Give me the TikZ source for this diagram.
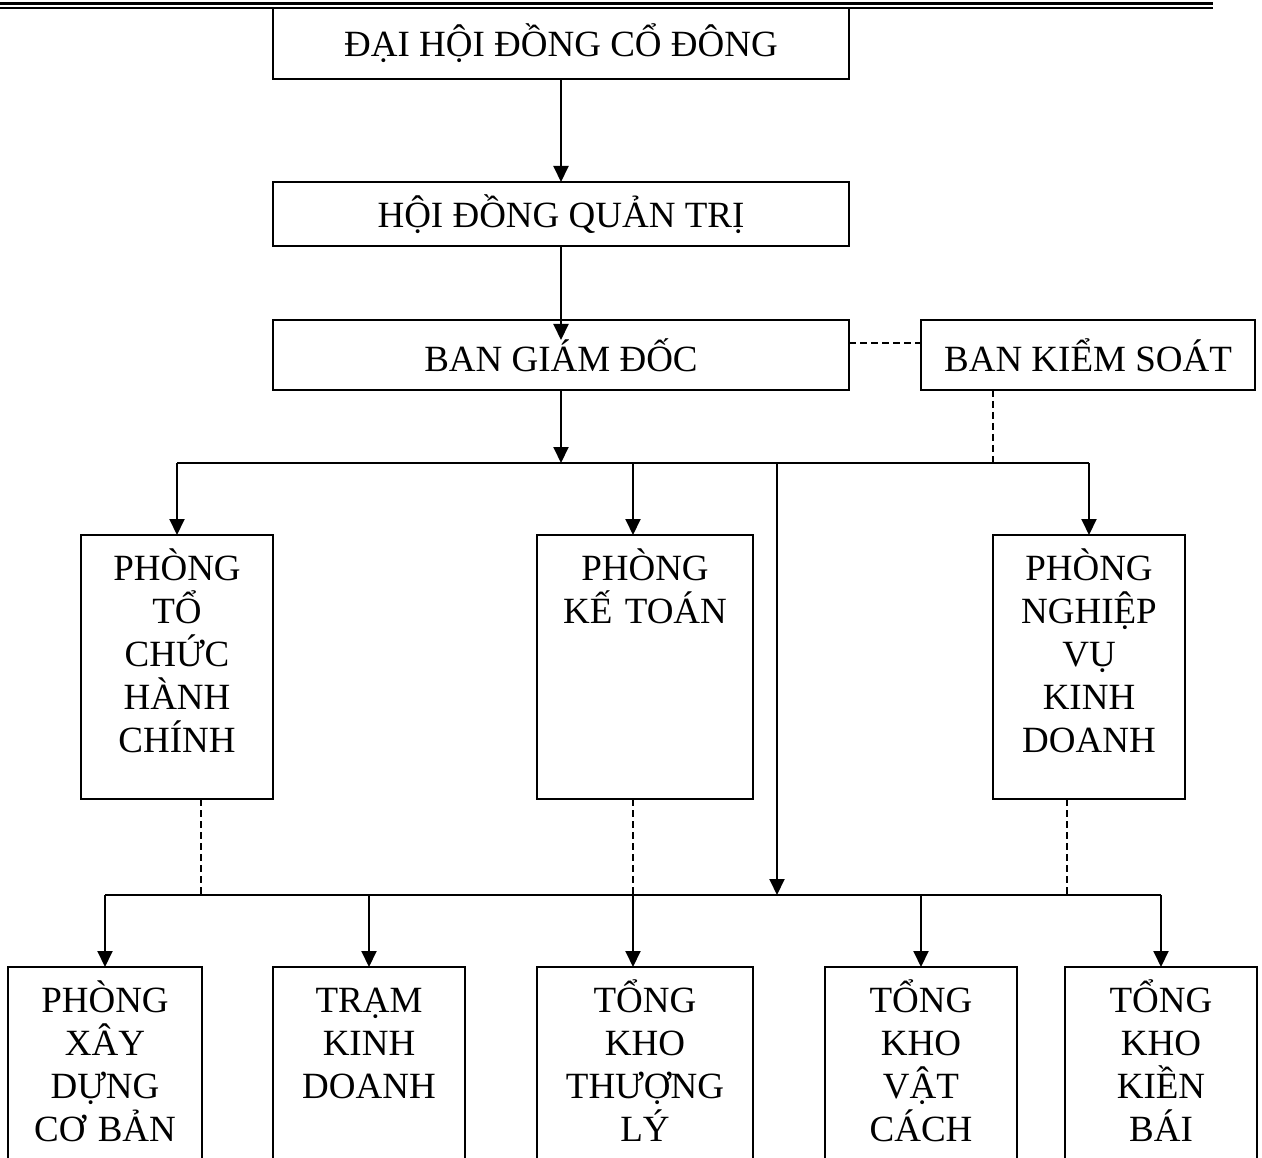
\documentclass[tikz,border=0pt]{standalone}
\usepackage{fontspec}
\setmainfont{Liberation Serif}
\usetikzlibrary{arrows.meta}
\usetikzlibrary{calc}
\tikzstyle{block} = [rectangle, draw=black, line width=2pt, inner sep=0pt, outer sep=0pt, anchor=north west, align=center]
\tikzstyle{midbox} = [block, minimum width=192pt, minimum height=264pt]
\tikzstyle{lowbox} = [block, minimum height=220pt]
\tikzstyle{title} = [anchor=base, text width=190pt, align=center, inner sep=0pt]
\tikzstyle{arrow} = [-{Triangle[length=16pt,width=15pt]}, line width=2pt]
\tikzstyle{bus} = [line width=2pt]
\tikzstyle{link} = [line width=1.3pt, dash pattern=on 7pt off 4pt]
\newcommand{\textdrop}{45pt}

\begin{document}
\begin{tikzpicture}[x=1pt, y=-1pt, font=\fontsize{37}{43}\selectfont]

  \useasboundingbox (0,0) rectangle (1262,1158);
  \clip (0,0) rectangle (1262,1158);

  % Header rule
  \coordinate (ruleL) at (0,4);
  \coordinate (ruleR) at (1213,4);
  \draw [line width=3pt] (ruleL) -- (ruleR);
  \draw [line width=2pt] ([yshift=-4.5pt]ruleL) -- ([yshift=-4.5pt]ruleR);

  % Columns and buses
  \coordinate (colTC) at (201,0);
  \coordinate (colKT) at (633,0);
  \coordinate (colMain) at (777,0);
  \coordinate (colKS) at (993,0);
  \coordinate (colNV) at (1067,0);
  \coordinate (busTop) at (561,463);
  \coordinate (busTopL) at (177,463);
  \coordinate (busTopR) at (1089,463);
  \coordinate (busBot) at (777,895);
  \coordinate (busBotL) at (105,895);
  \coordinate (busBotR) at (1161,895);

  % Top chain
  \node [block, minimum width=576pt, minimum height=71pt] (daiHoi) at (273,8) {ĐẠI HỘI ĐỒNG CỔ ĐÔNG};
  \node [block, minimum width=576pt, minimum height=64pt] (hoiDong) at (273,182) {HỘI ĐỒNG QUẢN TRỊ};
  \node [block, minimum width=576pt, minimum height=70pt] (banGD) at (273,320) {BAN GIÁM ĐỐC};
  \node [block, minimum width=334pt, minimum height=70pt] (banKS) at (921,320) {BAN KIỂM SOÁT};

  % Departments
  \node [midbox] (toChuc) at (81,535) {};
  \node [title] (toChucText) at ([yshift=-\textdrop]toChuc.north) {PHÒNG\\TỔ\\CHỨC\\HÀNH\\CHÍNH};
  \node [midbox, minimum width=216pt] (keToan) at (537,535) {};
  \node [title] (keToanText) at ([yshift=-\textdrop]keToan.north) {PHÒNG\\KẾ TOÁN};
  \node [midbox] (nghiepVu) at (993,535) {};
  \node [title] (nghiepVuText) at ([yshift=-\textdrop]nghiepVu.north) {PHÒNG\\NGHIỆP\\VỤ\\KINH\\DOANH};

  % Units
  \node [lowbox, minimum width=194pt] (xayDung) at (8,967) {};
  \node [title] (xayDungText) at ([yshift=-\textdrop]xayDung.north) {PHÒNG\\XÂY\\DỰNG\\CƠ BẢN};
  \node [lowbox, minimum width=192pt] (tram) at (273,967) {};
  \node [title] (tramText) at ([yshift=-\textdrop]tram.north) {TRẠM\\KINH\\DOANH};
  \node [lowbox, minimum width=216pt] (thuongLy) at (537,967) {};
  \node [title] (thuongLyText) at ([yshift=-\textdrop]thuongLy.north) {TỔNG\\KHO\\THƯỢNG\\LÝ};
  \node [lowbox, minimum width=192pt] (vatCach) at (825,967) {};
  \node [title] (vatCachText) at ([yshift=-\textdrop]vatCach.north) {TỔNG\\KHO\\VẬT\\CÁCH};
  \node [lowbox, minimum width=192pt] (kienBai) at (1065,967) {};
  \node [title] (kienBaiText) at ([yshift=-\textdrop]kienBai.north) {TỔNG\\KHO\\KIỀN\\BÁI};

  % Top chain arrows
  \draw [arrow] (daiHoi) -- (hoiDong);
  \draw [arrow] (hoiDong) -- ([yshift=-20pt]banGD.north);
  \draw [arrow] (banGD) -- (busTop);
  \draw [link] ([yshift=12pt]banGD.east) -- ([yshift=12pt]banKS.west);
  \draw [link] (colKS |- banKS.south) -- (colKS |- busTop);

  % Upper bus
  \draw [bus] (busTopL) -- (busTopR);
  \draw [arrow] (busTopL) -- (toChuc);
  \draw [arrow] (colKT |- busTop) -- (colKT |- keToan.north);
  \draw [arrow] (busTopR) -- (nghiepVu);
  \draw [arrow] (colMain |- busTop) -- (busBot);

  % Dotted feedback
  \draw [link] (colTC |- toChuc.south) -- (colTC |- busBot);
  \draw [link] (colKT |- keToan.south) -- (colKT |- busBot);
  \draw [link] (colNV |- nghiepVu.south) -- (colNV |- busBot);

  % Lower bus
  \draw [bus] (busBotL) -- (busBotR);
  \draw [arrow] (busBotL) -- (xayDung);
  \draw [arrow] (tram.north |- busBot) -- (tram);
  \draw [arrow] (colKT |- busBot) -- (colKT |- thuongLy.north);
  \draw [arrow] (vatCach.north |- busBot) -- (vatCach);
  \draw [arrow] (busBotR) -- (kienBai);

\end{tikzpicture}
\end{document}
